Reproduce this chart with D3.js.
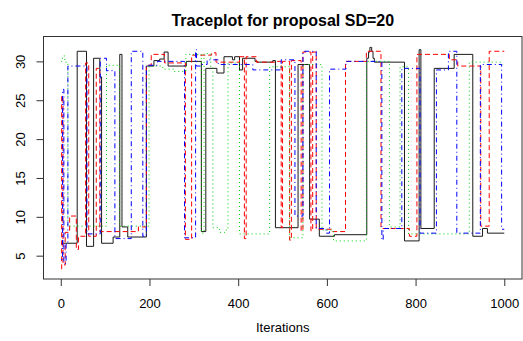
<!DOCTYPE html>
<html>
<head>
<meta charset="utf-8">
<title>Traceplot</title>
<style>
  body { margin: 0; background: #fff; }
  svg { display: block; font-family: 'Liberation Sans', Arial, Helvetica, sans-serif; }
</style>
<script src="https://d3js.org/d3.v7.min.js"></script>
</head>
<body>
<svg id="trace"></svg>
<script>
/* global d3 */

// MCMC chains, kept as [iteration, value] at each accepted move
// (the value holds until the next entry)
var chain1 = [
  [1, 6.6], [37, 31.3], [58, 6.2], [74, 30.4], [88, 28.0], [92, 6.6], [118, 7.4],
  [133, 30.9], [138, 8.7], [151, 7.4], [193, 29.4], [210, 30.1], [223, 30.3],
  [233, 31.2], [242, 29.4], [283, 30.0], [317, 8.1], [327, 29.1], [352, 28.5],
  [368, 30.6], [387, 30.2], [392, 30.6], [403, 28.9], [410, 30.4], [438, 30.0],
  [443, 29.9], [478, 30.1], [484, 8.6], [535, 29.6], [561, 9.7], [583, 7.5],
  [617, 7.7], [690, 30.4], [694, 31.2], [697, 31.8], [701, 31.3], [704, 30.4],
  [707, 29.9], [775, 6.9], [808, 31.5], [812, 8.5], [842, 29.1], [887, 30.9],
  [929, 7.5], [951, 8.5], [962, 7.9]
]
var chain2 = [
  [1, 3.3], [2, 25.5], [5, 3.8], [10, 8.0], [20, 10.1], [35, 5.8], [40, 7.5],
  [56, 29.8], [63, 7.5], [80, 29.1], [88, 8.1], [175, 8.7], [193, 29.5],
  [204, 30.9], [234, 29.8], [281, 7.1], [295, 30.8], [340, 31.1], [350, 29.9],
  [403, 30.6], [414, 7.2], [418, 30.6], [441, 29.9], [483, 30.0], [497, 8.6],
  [500, 30.0], [516, 7.0], [520, 30.1], [542, 8.2], [546, 31.2], [564, 8.2],
  [568, 31.2], [576, 8.4], [613, 8.1], [642, 30.0], [689, 31.3], [722, 8.5],
  [786, 7.5], [803, 30.9], [876, 30.2], [895, 29.4], [947, 8.8], [966, 31.3]
]
var chain3 = [
  [1, 30.0], [4, 30.7], [9, 29.9], [16, 8.8], [103, 29.5], [133, 8.8],
  [199, 29.4], [230, 29.0], [255, 28.7], [282, 30.9], [317, 7.9], [323, 31.0],
  [338, 29.2], [343, 8.6], [358, 8.0], [370, 8.3], [377, 29.8], [403, 7.8],
  [471, 29.3], [516, 7.3], [546, 29.6], [589, 8.3], [615, 6.9], [689, 30.0],
  [741, 8.7], [765, 29.3], [784, 7.8], [921, 29.9], [993, 29.6]
]
var chain4 = [
  [1, 4.5], [4, 26.4], [7, 4.0], [12, 6.5], [16, 29.4], [59, 7.8], [89, 30.4],
  [103, 28.8], [122, 7.2], [159, 31.3], [185, 7.5], [193, 29.5], [218, 30.0],
  [279, 7.3], [304, 31.5], [306, 29.4], [318, 29.6], [330, 30.2], [355, 29.6],
  [433, 28.9], [497, 30.2], [528, 10.1], [546, 31.3], [576, 8.5], [598, 7.9],
  [606, 29.0], [643, 30.0], [724, 7.0], [727, 8.5], [769, 29.1], [810, 7.9],
  [847, 28.9], [874, 31.3], [893, 7.9], [946, 29.6], [994, 8.4]
]
var chains = [chain1, chain2, chain3, chain4]

var nIter = 1000
var xTicks = [0, 200, 400, 600, 800, 1000]
var yTicks = [5, 10, 15, 20, 25, 30]
var yLim = [2.0, 33.2]

// colour and line type per chain, same order as matplot
var chainColors = ['#1a1a1a', '#ff0000', '#00cd00', '#0000ff']
var chainDashes = [null, '5,3', '1,3', '1,3,5,3']

setupTraceplot()

function setupTraceplot () {
  // set the dimensions and margins of the graph
  var margin = {top: 36.5, right: 1, bottom: 62, left: 43.5}
  var width = 523 - margin.left - margin.right
  var height = 341 - margin.top - margin.bottom

  // 4% padding on the iteration range, like base graphics
  var pad = 0.04 * (nIter - 1)
  var x = d3.scaleLinear()
            .domain([1 - pad, nIter + pad])
            .range([0, width])

  var y = d3.scaleLinear()
            .domain(yLim)
            .range([height, 0])

  var svg = d3.select('#trace')
      .attr('width', width + margin.left + margin.right)
      .attr('height', height + margin.top + margin.bottom)
    .append('g')
      .attr('transform',
            'translate(' + margin.left + ',' + margin.top + ')')

  // one step line per chain
  var line = d3.line()
      .curve(d3.curveStepAfter)
      .x(function (d) { return x(d[0]) })
      .y(function (d) { return y(d[1]) })

  chains.forEach(function (chain, i) {
    var pts = chain.concat([[nIter, chain[chain.length - 1][1]]])
    svg.append('path')
        .datum(pts)
        .attr('class', 'chain')
        .attr('fill', 'none')
        .attr('stroke', chainColors[i])
        .attr('stroke-width', 1)
        .attr('stroke-dasharray', chainDashes[i])
        .attr('d', line)
  })

  // plot box
  svg.append('rect')
      .attr('width', width)
      .attr('height', height)
      .attr('fill', 'none')
      .attr('stroke', '#333')

  // add the x Axis
  var xAxis = svg.append('g')
      .attr('class', 'x-label')
      .attr('transform', 'translate(0,' + height + ')')
      .call(d3.axisBottom(x).tickValues(xTicks).tickSize(7).tickFormat(d3.format('d')))
  xAxis.select('.domain').remove()
  xAxis.selectAll('line').attr('stroke', '#333')
  xAxis.selectAll('text')
      .attr('y', 20)
      .attr('fill', '#000')
      .style('font-size', '13px')

  // add the y Axis, labels turned like las = 0
  var yAxis = svg.append('g')
      .call(d3.axisLeft(y).tickValues(yTicks).tickSize(7))
  yAxis.select('.domain').remove()
  yAxis.selectAll('line').attr('stroke', '#333')
  yAxis.selectAll('text')
      .attr('x', 0)
      .attr('y', -18.2)
      .attr('dy', 0)
      .attr('transform', 'rotate(-90)')
      .attr('fill', '#000')
      .style('text-anchor', 'middle')
      .style('font-size', '13px')

  // title and axis title
  svg.append('text')
      .attr('x', width / 2)
      .attr('y', -11)
      .attr('text-anchor', 'middle')
      .style('font-size', '16px')
      .style('font-weight', 'bold')
      .text('Traceplot for proposal SD=20')

  svg.append('text')
      .attr('x', width / 2)
      .attr('y', height + 53)
      .attr('text-anchor', 'middle')
      .style('font-size', '13px')
      .text('Iterations')
}
</script>
</body>
</html>
